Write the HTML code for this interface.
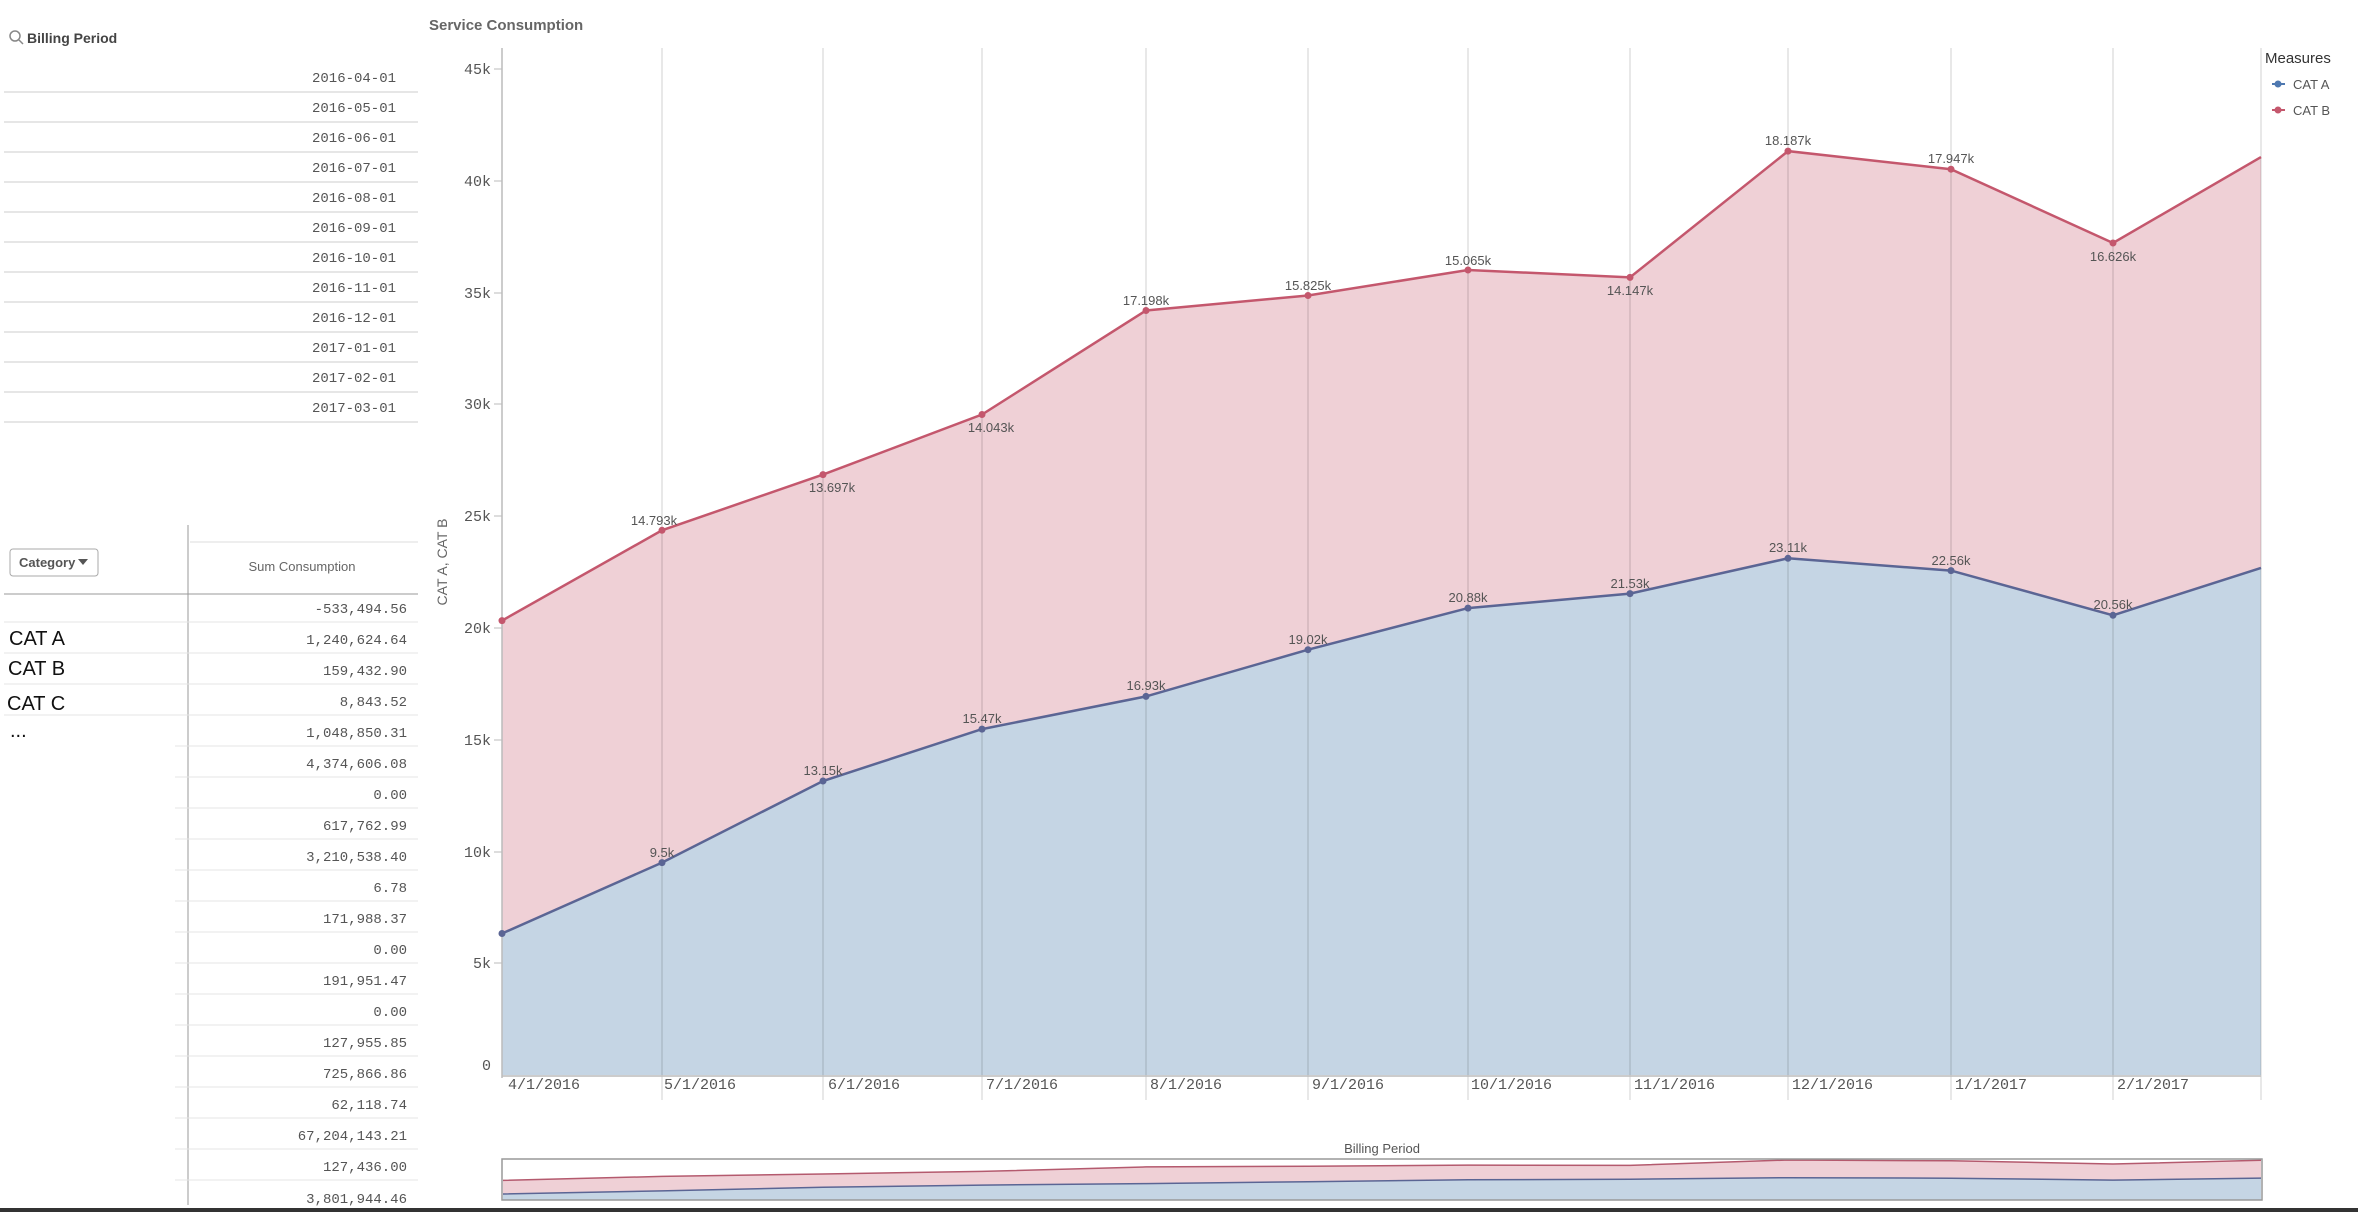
<!DOCTYPE html>
<html><head><meta charset="utf-8"><style>
body{margin:0;width:2358px;height:1212px;background:#fff;overflow:hidden;position:relative;font-family:"Liberation Sans",sans-serif}
svg{position:absolute;left:0;top:0}
</style></head><body>
<svg width="2358" height="1212" xmlns="http://www.w3.org/2000/svg">
<circle cx="15" cy="36" r="5" fill="none" stroke="#888" stroke-width="1.5"/><line x1="19" y1="40" x2="23" y2="44" stroke="#888" stroke-width="1.5"/>
<text x="27" y="43" font-size="14" font-weight="bold" fill="#444">Billing Period</text>
<g font-family="Liberation Mono,monospace" font-size="14" fill="#555" text-anchor="end">
<text x="396" y="82">2016-04-01</text><text x="396" y="112">2016-05-01</text><text x="396" y="142">2016-06-01</text><text x="396" y="172">2016-07-01</text><text x="396" y="202">2016-08-01</text><text x="396" y="232">2016-09-01</text><text x="396" y="262">2016-10-01</text><text x="396" y="292">2016-11-01</text><text x="396" y="322">2016-12-01</text><text x="396" y="352">2017-01-01</text><text x="396" y="382">2017-02-01</text><text x="396" y="412">2017-03-01</text>
</g>
<g stroke="#ddd" stroke-width="1.5">
<line x1="4" y1="92" x2="418" y2="92"/><line x1="4" y1="122" x2="418" y2="122"/><line x1="4" y1="152" x2="418" y2="152"/><line x1="4" y1="182" x2="418" y2="182"/><line x1="4" y1="212" x2="418" y2="212"/><line x1="4" y1="242" x2="418" y2="242"/><line x1="4" y1="272" x2="418" y2="272"/><line x1="4" y1="302" x2="418" y2="302"/><line x1="4" y1="332" x2="418" y2="332"/><line x1="4" y1="362" x2="418" y2="362"/><line x1="4" y1="392" x2="418" y2="392"/><line x1="4" y1="422" x2="418" y2="422"/>
</g>
<line x1="188" y1="525" x2="188" y2="1205" stroke="#999" stroke-width="1"/>
<line x1="190" y1="542" x2="418" y2="542" stroke="#ddd"/>
<line x1="4" y1="594" x2="418" y2="594" stroke="#999"/>
<rect x="10" y="549" width="88" height="27" rx="3" fill="#fff" stroke="#aaa"/>
<text x="19" y="567" font-size="13" font-weight="bold" fill="#555">Category</text>
<path d="M78 559h10l-5 6z" fill="#555"/>
<text x="302" y="571" font-size="13" fill="#666" text-anchor="middle">Sum Consumption</text>
<g font-family="Liberation Mono,monospace" font-size="14" fill="#555" text-anchor="end">
<text x="407" y="613">-533,494.56</text><text x="407" y="644">1,240,624.64</text><text x="407" y="675">159,432.90</text><text x="407" y="706">8,843.52</text><text x="407" y="737">1,048,850.31</text><text x="407" y="768">4,374,606.08</text><text x="407" y="799">0.00</text><text x="407" y="830">617,762.99</text><text x="407" y="861">3,210,538.40</text><text x="407" y="892">6.78</text><text x="407" y="923">171,988.37</text><text x="407" y="954">0.00</text><text x="407" y="985">191,951.47</text><text x="407" y="1016">0.00</text><text x="407" y="1047">127,955.85</text><text x="407" y="1078">725,866.86</text><text x="407" y="1109">62,118.74</text><text x="407" y="1140">67,204,143.21</text><text x="407" y="1171">127,436.00</text><text x="407" y="1203">3,801,944.46</text>
</g>
<g stroke="#e4e4e4"><line x1="4" y1="622" x2="418" y2="622"/><line x1="4" y1="653" x2="418" y2="653"/><line x1="4" y1="684" x2="418" y2="684"/><line x1="4" y1="715" x2="418" y2="715"/><line x1="175" y1="746" x2="418" y2="746"/><line x1="175" y1="777" x2="418" y2="777"/><line x1="175" y1="808" x2="418" y2="808"/><line x1="175" y1="839" x2="418" y2="839"/><line x1="175" y1="870" x2="418" y2="870"/><line x1="175" y1="901" x2="418" y2="901"/><line x1="175" y1="932" x2="418" y2="932"/><line x1="175" y1="963" x2="418" y2="963"/><line x1="175" y1="994" x2="418" y2="994"/><line x1="175" y1="1025" x2="418" y2="1025"/><line x1="175" y1="1056" x2="418" y2="1056"/><line x1="175" y1="1087" x2="418" y2="1087"/><line x1="175" y1="1118" x2="418" y2="1118"/><line x1="175" y1="1149" x2="418" y2="1149"/><line x1="175" y1="1180" x2="418" y2="1180"/></g>
<g font-size="20" fill="#111"><text x="9" y="645">CAT A</text><text x="8" y="675">CAT B</text><text x="7" y="710">CAT C</text><text x="10" y="737">...</text></g>
<text x="429" y="30" font-size="15" font-weight="bold" fill="#666">Service Consumption</text>
<text transform="translate(447,562) rotate(-90)" font-size="14" fill="#666" text-anchor="middle">CAT A, CAT B</text>
<polygon fill="#efd0d6" points="502,620.6 662,530.3 823,474.6 982,414.5 1146,310.5 1308,295.5 1468,270 1630,277.4 1788,151.1 1951,169.2 2113,243 2261,157.1 2261,567.9 2113,615.3 1951,570.6 1788,558.3 1630,593.6 1468,608.1 1308,649.7 1146,696.4 982,729.1 823,781 662,862.6 502,933.5"/>
<polygon fill="#c5d5e4" points="502,933.5 662,862.6 823,781 982,729.1 1146,696.4 1308,649.7 1468,608.1 1630,593.6 1788,558.3 1951,570.6 2113,615.3 2261,567.9 2261,1075 502,1075"/>
<g stroke="#000" stroke-opacity="0.12" stroke-width="1.5">
<line x1="662" y1="48" x2="662" y2="1100"/><line x1="823" y1="48" x2="823" y2="1100"/><line x1="982" y1="48" x2="982" y2="1100"/><line x1="1146" y1="48" x2="1146" y2="1100"/><line x1="1308" y1="48" x2="1308" y2="1100"/><line x1="1468" y1="48" x2="1468" y2="1100"/><line x1="1630" y1="48" x2="1630" y2="1100"/><line x1="1788" y1="48" x2="1788" y2="1100"/><line x1="1951" y1="48" x2="1951" y2="1100"/><line x1="2113" y1="48" x2="2113" y2="1100"/><line x1="2261" y1="48" x2="2261" y2="1100"/>
</g>
<line x1="502" y1="48" x2="502" y2="1078" stroke="#bbb" stroke-width="1.5"/>
<line x1="502" y1="1076" x2="2261" y2="1076" stroke="#bbb" stroke-width="1.5"/>
<g stroke="#bbb"><line x1="494" y1="69" x2="502" y2="69"/><line x1="494" y1="181" x2="502" y2="181"/><line x1="494" y1="293" x2="502" y2="293"/><line x1="494" y1="404" x2="502" y2="404"/><line x1="494" y1="516" x2="502" y2="516"/><line x1="494" y1="628" x2="502" y2="628"/><line x1="494" y1="740" x2="502" y2="740"/><line x1="494" y1="852" x2="502" y2="852"/><line x1="494" y1="963" x2="502" y2="963"/></g>
<g font-family="Liberation Mono,monospace" font-size="15" fill="#555" text-anchor="end">
<text x="491" y="74">45k</text><text x="491" y="186">40k</text><text x="491" y="298">35k</text><text x="491" y="409">30k</text><text x="491" y="521">25k</text><text x="491" y="633">20k</text><text x="491" y="745">15k</text><text x="491" y="857">10k</text><text x="491" y="968">5k</text><text x="491" y="1070">0</text>
</g>
<g font-family="Liberation Mono,monospace" font-size="15" fill="#555">
<text x="508" y="1089">4/1/2016</text><text x="664" y="1089">5/1/2016</text><text x="828" y="1089">6/1/2016</text><text x="986" y="1089">7/1/2016</text><text x="1150" y="1089">8/1/2016</text><text x="1312" y="1089">9/1/2016</text><text x="1471" y="1089">10/1/2016</text><text x="1634" y="1089">11/1/2016</text><text x="1792" y="1089">12/1/2016</text><text x="1955" y="1089">1/1/2017</text><text x="2117" y="1089">2/1/2017</text>
</g>
<polyline fill="none" stroke="#c4576d" stroke-width="2.5" points="502,620.6 662,530.3 823,474.6 982,414.5 1146,310.5 1308,295.5 1468,270 1630,277.4 1788,151.1 1951,169.2 2113,243 2261,157.1"/>
<polyline fill="none" stroke="#5b6594" stroke-width="2.5" points="502,933.5 662,862.6 823,781 982,729.1 1146,696.4 1308,649.7 1468,608.1 1630,593.6 1788,558.3 1951,570.6 2113,615.3 2261,567.9"/>
<g fill="#c4576d"><circle cx="502" cy="620.6" r="3.5"/><circle cx="662" cy="530.3" r="3.5"/><circle cx="823" cy="474.6" r="3.5"/><circle cx="982" cy="414.5" r="3.5"/><circle cx="1146" cy="310.5" r="3.5"/><circle cx="1308" cy="295.5" r="3.5"/><circle cx="1468" cy="270" r="3.5"/><circle cx="1630" cy="277.4" r="3.5"/><circle cx="1788" cy="151.1" r="3.5"/><circle cx="1951" cy="169.2" r="3.5"/><circle cx="2113" cy="243" r="3.5"/></g>
<g fill="#5b6594"><circle cx="502" cy="933.5" r="3.5"/><circle cx="662" cy="862.6" r="3.5"/><circle cx="823" cy="781" r="3.5"/><circle cx="982" cy="729.1" r="3.5"/><circle cx="1146" cy="696.4" r="3.5"/><circle cx="1308" cy="649.7" r="3.5"/><circle cx="1468" cy="608.1" r="3.5"/><circle cx="1630" cy="593.6" r="3.5"/><circle cx="1788" cy="558.3" r="3.5"/><circle cx="1951" cy="570.6" r="3.5"/><circle cx="2113" cy="615.3" r="3.5"/></g>
<g font-size="13" fill="#555" text-anchor="middle">
<text x="654" y="525">14.793k</text><text x="832" y="492">13.697k</text><text x="991" y="432">14.043k</text><text x="1146" y="305">17.198k</text><text x="1308" y="290">15.825k</text><text x="1468" y="265">15.065k</text><text x="1630" y="295">14.147k</text><text x="1788" y="145">18.187k</text><text x="1951" y="163">17.947k</text><text x="2113" y="261">16.626k</text>
<text x="662" y="857">9.5k</text><text x="823" y="775">13.15k</text><text x="982" y="723">15.47k</text><text x="1146" y="690">16.93k</text><text x="1308" y="644">19.02k</text><text x="1468" y="602">20.88k</text><text x="1630" y="588">21.53k</text><text x="1788" y="552">23.11k</text><text x="1951" y="565">22.56k</text><text x="2113" y="609">20.56k</text>
</g>
<text x="2265" y="63" font-size="15" fill="#333">Measures</text>
<line x1="2272" y1="84" x2="2285" y2="84" stroke="#4e78b0" stroke-width="2"/><circle cx="2278" cy="84" r="3.5" fill="#4e78b0"/>
<text x="2293" y="89" font-size="13" fill="#555">CAT A</text>
<line x1="2272" y1="110" x2="2285" y2="110" stroke="#c4576d" stroke-width="2"/><circle cx="2278" cy="110" r="3.5" fill="#c4576d"/>
<text x="2293" y="115" font-size="13" fill="#555">CAT B</text>
<text x="1382" y="1153" font-size="13" fill="#555" text-anchor="middle">Billing Period</text>
<polygon fill="#efd0d6" points="503,1180.4 662,1176.4 823,1174 982,1171.4 1146,1166.9 1308,1166.2 1468,1165.1 1630,1165.4 1788,1160 1951,1160.8 2113,1164 2261,1160.3 2261,1178.1 2113,1180.1 1951,1178.2 1788,1177.7 1630,1179.2 1468,1179.8 1308,1181.7 1146,1183.6 982,1185.1 823,1187.3 662,1190.9 503,1194"/>
<polygon fill="#c5d5e4" points="503,1194 662,1190.9 823,1187.3 982,1185.1 1146,1183.6 1308,1181.7 1468,1179.8 1630,1179.2 1788,1177.7 1951,1178.2 2113,1180.1 2261,1178.1 2261,1200 503,1200"/>
<polyline fill="none" stroke="#b45a6e" stroke-width="1.5" points="503,1180.4 662,1176.4 823,1174 982,1171.4 1146,1166.9 1308,1166.2 1468,1165.1 1630,1165.4 1788,1160 1951,1160.8 2113,1164 2261,1160.3"/>
<polyline fill="none" stroke="#5b6594" stroke-width="1.5" points="503,1194 662,1190.9 823,1187.3 982,1185.1 1146,1183.6 1308,1181.7 1468,1179.8 1630,1179.2 1788,1177.7 1951,1178.2 2113,1180.1 2261,1178.1"/>
<rect x="502" y="1159" width="1760" height="41" fill="none" stroke="#999" stroke-width="1.5"/>
<rect x="0" y="1208" width="2358" height="4" fill="#333"/>
</svg>
</body></html>
